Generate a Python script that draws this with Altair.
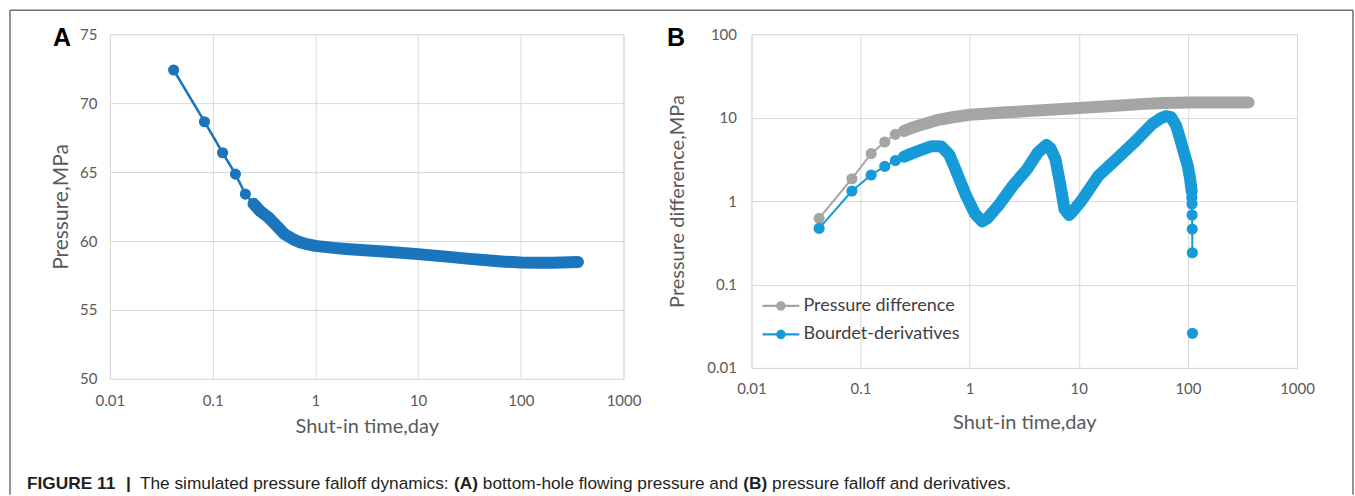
import altair as alt
import pandas as pd

# ---------------- data ----------------
# Panel A: bottom-hole flowing pressure (MPa) vs shut-in time (day)
a_time = [0.0417, 0.0833, 0.125, 0.1667, 0.2083, 0.25, 0.2917, 0.35, 0.42, 0.5,
          0.6, 0.7, 0.8, 0.9, 1.0, 1.5, 2, 3, 5, 10, 20, 30, 50, 70, 100, 150,
          200, 300, 360]
a_pressure = [72.4, 68.65, 66.4, 64.85, 63.4, 62.7, 62.15, 61.7, 61.1, 60.5,
              60.15, 59.92, 59.8, 59.72, 59.65, 59.5, 59.42, 59.33, 59.22, 59.05,
              58.85, 58.72, 58.58, 58.5, 58.44, 58.42, 58.43, 58.46, 58.48]

# Panel B: pressure difference (MPa)
dp_time = [0.0417, 0.0833, 0.125, 0.1667, 0.2083, 0.25, 0.2917, 0.35, 0.5, 0.7,
           1.0, 2, 5, 10, 20, 40, 60, 100, 200, 360]
dp_value = [0.62, 1.85, 3.7, 5.1, 6.3, 6.9, 7.5, 8.1, 9.3, 10.1,
            10.8, 11.5, 12.3, 13.0, 13.8, 14.6, 15.0, 15.2, 15.2, 15.2]

# Panel B: Bourdet derivatives (MPa)
der_time = [0.0417, 0.0833, 0.125, 0.1667, 0.2083, 0.25, 0.2917, 0.35, 0.45, 0.55,
            0.65, 0.74, 0.93, 1.12, 1.3, 1.45, 1.83, 2.48, 3.35, 4.2,
            5.05, 5.5, 6.1, 6.8, 7.4, 8.15, 9.0, 10.4, 15.1, 22,
            32, 46.7, 56, 63, 70, 78, 85, 92, 100, 105,
            108.2, 108.6, 108.9, 109.2, 109.5, 109.8, 110.1]
der_value = [0.47, 1.32, 2.05, 2.6, 3.05, 3.4, 3.7, 4.05, 4.55, 4.5,
             3.6, 2.4, 1.15, 0.70, 0.57, 0.62, 0.88, 1.52, 2.4, 3.8,
             4.7, 4.3, 3.2, 1.52, 0.8, 0.68, 0.78, 0.98, 2.0, 3.16,
             5.0, 8.3, 9.8, 10.4, 10.1, 8.0, 5.5, 3.8, 2.6, 1.8,
             1.3, 1.1, 0.92, 0.68, 0.46, 0.24, 0.026]
der_segment = [1] * 46 + [2]

series_names = ["Pressure difference", "Bourdet-derivatives"]
x_ticks = [0.01, 0.1, 1, 10, 100, 1000]
a_y_ticks = [50, 55, 60, 65, 70, 75]
b_y_ticks = [0.01, 0.1, 1, 10, 100]

caption_parts = [
    ("FIGURE 11", "bold"),
    ("|", "bold"),
    ("The simulated pressure falloff dynamics:", "normal"),
    ("(A)", "bold"),
    ("bottom-hole flowing pressure and", "normal"),
    ("(B)", "bold"),
    ("pressure falloff and derivatives.", "normal"),
]

# ---------------- styling ----------------
BLUE_A = "#1b75bc"
BLUE_B = "#169ad8"
GRAY = "#a5a5a5"
GRID = "#d9d9d9"
TXT = "#595959"
FONT = "Lato"
CAP_FONT = "Liberation Sans"

A_W, A_H = 514, 345
B_W, B_H = 546, 334
B_OFFSET = 642  # panel B origin relative to panel A origin

MARK_SIZE = 125
BAND = 12


def x_axis(lp, tp):
    return alt.Axis(values=x_ticks, format="~g", title="Shut-in time,day",
                    grid=True, gridColor=GRID, domain=False, ticks=False,
                    labelPadding=lp, titlePadding=tp, labelFontSize=15,
                    titleFontSize=20, labelColor=TXT, titleColor=TXT,
                    labelFont=FONT, titleFont=FONT, titleFontWeight="normal",
                    labelFlush=False)


def y_axis(vals, title, lp, tp, fs):
    return alt.Axis(values=vals, format="~g", title=title, grid=True,
                    gridColor=GRID, domain=False, ticks=False, labelPadding=lp,
                    titlePadding=tp, labelFontSize=15, titleFontSize=fs,
                    labelColor=TXT, titleColor=TXT, labelFont=FONT,
                    titleFont=FONT, titleFontWeight="normal", labelFlush=False)


def one_row():
    return alt.Chart(pd.DataFrame({"k": [0]}))


# ---------------- panel A ----------------
dfA = pd.DataFrame({"t": a_time, "p": a_pressure})
dfA["sparse"] = dfA["t"] < 0.3
dfA["dense"] = dfA["t"] > 0.24

xA = alt.X("t:Q", scale=alt.Scale(type="log", domain=[0.01, 1000], nice=False),
           axis=x_axis(15, 8))
yA = alt.Y("p:Q", scale=alt.Scale(domain=[50, 75], nice=False, zero=False),
           axis=y_axis(a_y_ticks, "Pressure,MPa", 13, 8, 21))

baseA = alt.Chart(dfA)
thinA = baseA.mark_line(color=BLUE_A, strokeWidth=2.5).encode(x=xA, y=yA)
thickA = baseA.transform_filter("datum.dense").mark_line(
    color=BLUE_A, strokeWidth=BAND, strokeCap="round", strokeJoin="round"
).encode(x=xA, y=yA)
dotsA = baseA.transform_filter("datum.sparse").mark_circle(
    color=BLUE_A, size=MARK_SIZE, opacity=1).encode(x=xA, y=yA)

letterA = alt.Chart(pd.DataFrame({"s": ["A"]})).mark_text(
    font=CAP_FONT, fontSize=25, fontWeight="bold", color="black",
    align="center", baseline="middle"
).encode(text="s:N", x=alt.value(-48), y=alt.value(4))

# caption (placed below both panels; relative to panel A origin)
caption_x = [-83, 16, 30, 344.4, 373.2, 633.8, 662.6]
caption_layers = []
for (txt, wt), cx in zip(caption_parts, caption_x):
    caption_layers.append(
        alt.Chart(pd.DataFrame({"s": [txt]})).mark_text(
            font=CAP_FONT, fontSize=17.3, fontWeight=wt, color="#231f20",
            align="left", baseline="alphabetic"
        ).encode(text="s:N", x=alt.value(cx), y=alt.value(455))
    )

# figure frame (left, top, right)
frame_left = one_row().mark_rule(color="#6f6f6f", strokeWidth=1.5).encode(
    x=alt.value(-100), y=alt.value(-24), y2=alt.value(461))
frame_top = one_row().mark_rule(color="#6f6f6f", strokeWidth=1.5).encode(
    x=alt.value(-100), x2=alt.value(1244), y=alt.value(-24))
frame_right = one_row().mark_rule(color="#6f6f6f", strokeWidth=1.5).encode(
    x=alt.value(1244), y=alt.value(-24), y2=alt.value(461))

panelA = alt.layer(frame_left, frame_top, frame_right, thinA, thickA, dotsA,
                   letterA, *caption_layers).properties(width=A_W, height=A_H)

# ---------------- panel B ----------------
dfG = pd.DataFrame({"t": dp_time, "v": dp_value, "series": series_names[0], "seg": 1})
dfG["sparse"] = dfG["t"] < 0.3
dfG["dense"] = dfG["t"] > 0.24
dfD = pd.DataFrame({"t": der_time, "v": der_value, "series": series_names[1],
                    "seg": der_segment})
dfD["sparse"] = (dfD["t"] < 0.3) | (dfD["t"] > 108)
dfD["dense"] = (dfD["t"] > 0.24) & (dfD["t"] < 108.3)
dfB = pd.concat([dfG, dfD], ignore_index=True)

xB = alt.X("t:Q", scale=alt.Scale(type="log", domain=[0.01, 1000], nice=False),
           axis=x_axis(14, 16))
yB = alt.Y("v:Q", scale=alt.Scale(type="log", domain=[0.01, 100], nice=False),
           axis=y_axis(b_y_ticks, "Pressure difference,MPa", 15, 19, 20))

baseB = alt.Chart(dfB)
is_g = f"datum.series == '{series_names[0]}'"
is_d = f"datum.series == '{series_names[1]}'"

thinG = baseB.transform_filter(is_g).mark_line(color=GRAY, strokeWidth=2).encode(x=xB, y=yB)
thinD = baseB.transform_filter(is_d).mark_line(color=BLUE_B, strokeWidth=2).encode(
    x=xB, y=yB, detail="seg:N")
thickG = baseB.transform_filter(is_g + " && datum.dense").mark_line(
    color=GRAY, strokeWidth=BAND, strokeCap="round", strokeJoin="round").encode(x=xB, y=yB)
thickD = baseB.transform_filter(is_d + " && datum.dense").mark_line(
    color=BLUE_B, strokeWidth=BAND, strokeCap="round", strokeJoin="round").encode(
    x=xB, y=yB, detail="seg:N")

SYMBOL = ("M-1.42,-0.085L-0.3,-0.085L-0.3,0.085L-1.42,0.085Z "
          "M0.3,-0.085L1.42,-0.085L1.42,0.085L0.3,0.085Z "
          "M0.36,0A0.36,0.36 0 1,1 -0.36,0A0.36,0.36 0 1,1 0.36,0Z")

dotsB = baseB.transform_filter("datum.sparse").mark_circle(size=MARK_SIZE, opacity=1).encode(
    x=xB, y=yB,
    color=alt.Color("series:N",
                    scale=alt.Scale(domain=series_names, range=[GRAY, BLUE_B]),
                    legend=alt.Legend(title=None, orient="none",
                                      legendX=B_OFFSET + 16.5, legendY=259,
                                      symbolType=SYMBOL, symbolSize=676,
                                      symbolStrokeWidth=0, symbolOpacity=1,
                                      labelFontSize=18, labelFont=FONT,
                                      labelColor="#404040", labelOffset=9.5,
                                      labelLimit=400, rowPadding=6.5,
                                      padding=0)))

letterB = alt.Chart(pd.DataFrame({"s": ["B"]})).mark_text(
    font=CAP_FONT, fontSize=25, fontWeight="bold", color="black",
    align="center", baseline="middle"
).encode(text="s:N", x=alt.value(-75.5), y=alt.value(4))

panelB = alt.layer(thinG, thinD, thickG, thickD, dotsB, letterB).properties(
    width=B_W, height=B_H)

chart = alt.hconcat(panelA, panelB, spacing=B_OFFSET - A_W, bounds="flush").properties(
    padding={"left": 8, "top": 8, "right": 0, "bottom": 0}
).configure_view(stroke=GRID).configure(background="white")

chart.save("out.html", embed_options={"renderer": "svg", "actions": False})
